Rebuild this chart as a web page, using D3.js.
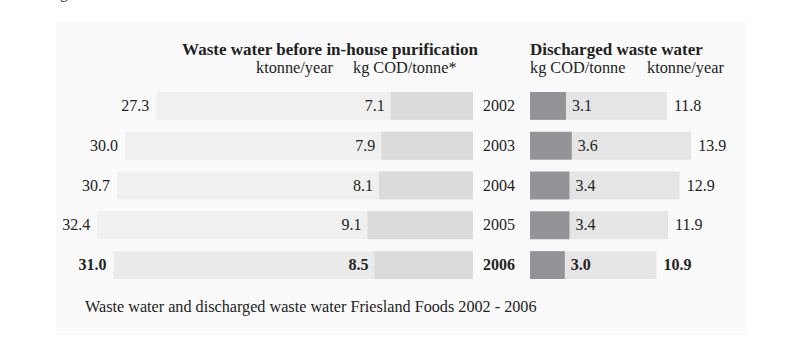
<!DOCTYPE html>
<html><head><meta charset="utf-8">
<script src="https://cdn.jsdelivr.net/npm/d3@7"></script>
<style>
html,body{margin:0;padding:0;background:#fff;}
svg{display:block;font-family:"Liberation Serif","Times New Roman",serif;}
</style></head>
<body>
<svg id="c" width="800" height="356"></svg>
<script>
const years = ["2002","2003","2004","2005","2006"];
const beforeKtonne = [27.3, 30.0, 30.7, 32.4, 31.0];
const beforeCOD = [7.1, 7.9, 8.1, 9.1, 8.5];
const dischargedCOD = [3.1, 3.6, 3.4, 3.4, 3.0];
const dischargedKtonne = [11.8, 13.9, 12.9, 11.9, 10.9];
const highlightYear = "2006";

const svg = d3.select("#c");
const fs = 16;

// stray glyph from page above
svg.append("text").attr("x", 60).attr("y", -2).attr("font-size", fs).attr("fill", "#333").text("g");

// panel
svg.append("rect").attr("x", 56).attr("y", 22).attr("width", 691).attr("height", 313).attr("fill", "#fafafa");

const len = d3.scaleLinear().domain([0, 1]).range([0, 11.6]);
const y = d3.scaleBand().domain(years).range([92, 279]).paddingInner(0.3).paddingOuter(0);

const leftEdge = 473, rightStart = 530;

// headers
svg.append("text").attr("x", 478).attr("y", 55).attr("text-anchor", "end").attr("font-weight", "bold")
  .attr("font-size", 17).attr("fill", "#222").text("Waste water before in-house purification");
svg.append("text").attr("x", 256).attr("y", 73).attr("font-size", 16.3).attr("fill", "#222").text("ktonne/year");
svg.append("text").attr("x", 353).attr("y", 73).attr("font-size", 16.3).attr("fill", "#222").text("kg COD/tonne*");
svg.append("text").attr("x", rightStart).attr("y", 55).attr("font-weight", "bold")
  .attr("font-size", 17).attr("fill", "#222").text("Discharged waste water");
svg.append("text").attr("x", rightStart).attr("y", 73).attr("font-size", 16.3).attr("fill", "#222").text("kg COD/tonne");
svg.append("text").attr("x", 647).attr("y", 73).attr("font-size", 16.3).attr("fill", "#222").text("ktonne/year");

const rows = years.map((yr, i) => ({yr, bk: beforeKtonne[i], bc: beforeCOD[i], dc: dischargedCOD[i], dk: dischargedKtonne[i]}));

const g = svg.selectAll("g.row").data(rows).join("g").attr("class", "row");
const h = y.bandwidth();
const isHi = d => d.yr === highlightYear;

// left: total ktonne bar (light)
g.append("rect").attr("x", d => leftEdge - len(d.bk)).attr("y", d => y(d.yr))
  .attr("width", d => len(d.bk)).attr("height", h).attr("rx", 1)
  .attr("fill", d => isHi(d) ? "#ebebeb" : "#f0f0f0");
// left: COD bar (darker)
g.append("rect").attr("x", d => leftEdge - len(d.bc)).attr("y", d => y(d.yr))
  .attr("width", d => len(d.bc)).attr("height", h).attr("rx", 1).attr("fill", "#dbdbdb");

// right: ktonne bar (light)
g.append("rect").attr("x", rightStart).attr("y", d => y(d.yr))
  .attr("width", d => len(d.dk)).attr("height", h).attr("rx", 1).attr("fill", "#e5e5e5");
// right: COD bar (dark)
g.append("rect").attr("x", rightStart).attr("y", d => y(d.yr))
  .attr("width", d => len(d.dc)).attr("height", h).attr("fill", "#949498");

const txt = (sel) => sel.attr("font-size", fs).attr("fill", "#222")
  .attr("font-weight", d => isHi(d) ? "bold" : "normal")
  .attr("y", d => y(d.yr) + h / 2 + 5);

g.append("text").call(txt).attr("x", d => leftEdge - len(d.bk) - 7).attr("text-anchor", "end").text(d => d.bk.toFixed(1));
g.append("text").call(txt).attr("x", d => leftEdge - len(d.bc) - 6).attr("text-anchor", "end").text(d => d.bc.toFixed(1));
g.append("text").call(txt).attr("x", 499).attr("text-anchor", "middle").text(d => d.yr);
g.append("text").call(txt).attr("x", d => rightStart + len(d.dc) + 6).text(d => d.dc.toFixed(1));
g.append("text").call(txt).attr("x", d => rightStart + len(d.dk) + 7).text(d => d.dk.toFixed(1));

// caption
svg.append("text").attr("x", 85).attr("y", 312).attr("font-size", 16.2).attr("fill", "#222")
  .text("Waste water and discharged waste water Friesland Foods 2002 - 2006");
</script>
</body></html>
